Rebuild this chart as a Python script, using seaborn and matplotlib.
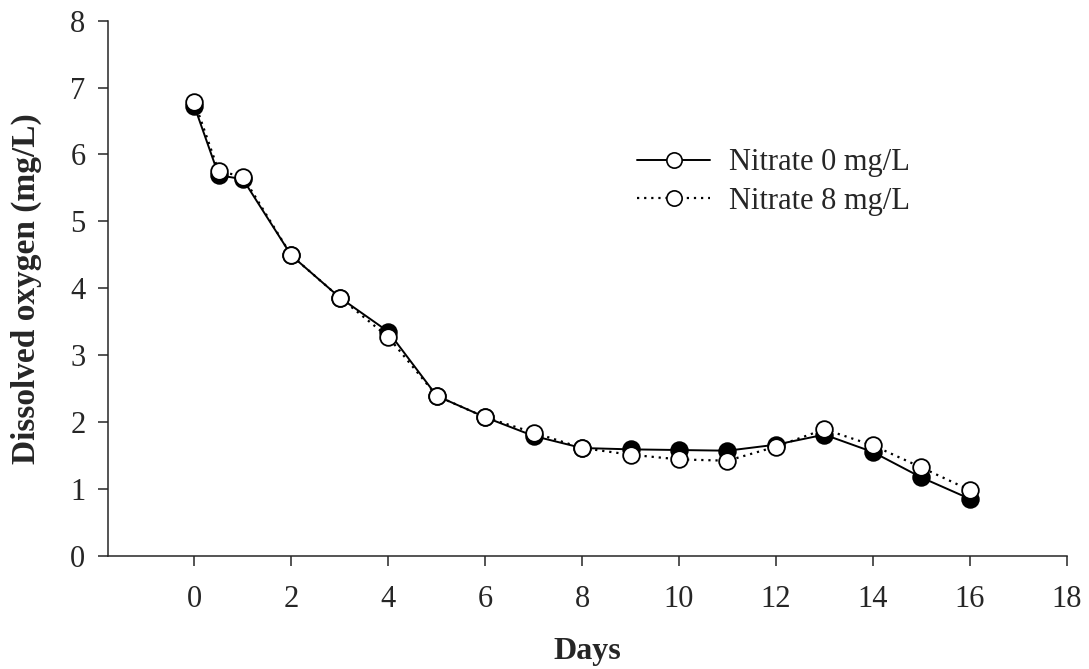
import matplotlib
matplotlib.use("Agg")
import matplotlib.pyplot as plt
from matplotlib.lines import Line2D
import pandas as pd
import seaborn as sns

days = [0, 0.5, 1, 2, 3, 4, 5, 6, 7, 8, 9, 10, 11, 12, 13, 14, 15, 16]
nitrate_0 = [6.72, 5.69, 5.63, 4.49, 3.86, 3.35, 2.39, 2.07, 1.79, 1.61, 1.59, 1.58,
             1.57, 1.66, 1.81, 1.55, 1.17, 0.85]
nitrate_8 = [6.79, 5.75, 5.67, 4.49, 3.86, 3.27, 2.39, 2.07, 1.84, 1.61, 1.51, 1.44,
             1.42, 1.63, 1.89, 1.65, 1.32, 0.98]
labels = ["Nitrate 0 mg/L", "Nitrate 8 mg/L"]

sns.set_style("ticks")
plt.rcParams['font.family'] = ['Liberation Serif', 'DejaVu Serif']
plt.rcParams['axes.linewidth'] = 1.1

df0 = pd.DataFrame({"Days": days, "DO": nitrate_0})
df8 = pd.DataFrame({"Days": days, "DO": nitrate_8})

fig = plt.figure(figsize=(10.89, 6.69), dpi=100)
ax = fig.add_axes([0.0989, 0.1694, 0.8806, 0.7996])

# 0 mg/L: solid line, black filled circles (drawn underneath)
sns.lineplot(data=df0, x="Days", y="DO", ax=ax, color="black", linewidth=1.4,
             linestyle="-", marker="o", markersize=12, markerfacecolor="black",
             markeredgecolor="black", markeredgewidth=1.3, zorder=2)
# 8 mg/L: dotted line, open circles on top
sns.lineplot(data=df8, x="Days", y="DO", ax=ax, color="black", linewidth=1.6,
             linestyle=(0, (1, 2.2)), marker="o", markersize=12, markerfacecolor="white",
             markeredgecolor="black", markeredgewidth=1.3, zorder=3)

ax.set_xlim(-1.79, 18)
ax.set_ylim(0, 8)
ax.set_xticks(range(0, 19, 2))
ax.set_yticks(range(0, 9))
sns.despine(ax=ax)
ax.tick_params(axis="x", direction="out", length=7, width=1.1, labelsize=22, pad=14)
ax.tick_params(axis="y", direction="out", length=7, width=1.1, labelsize=22, pad=9)

ax.set_xlabel("Days", fontsize=23, fontweight="bold")
ax.set_ylabel("Dissolved oxygen (mg/L)", fontsize=24, fontweight="bold")
ax.xaxis.set_label_coords(0.5, -0.152)
ax.yaxis.set_label_coords(-0.068, 0.5)

handles = [
    Line2D([], [], color="black", linewidth=1.4, linestyle="-", marker="o", markersize=11,
           markerfacecolor="white", markeredgecolor="black", markeredgewidth=1.2),
    Line2D([], [], color="black", linewidth=1.6, linestyle=(0, (1, 2.2)), marker="o",
           markersize=11, markerfacecolor="white", markeredgecolor="black", markeredgewidth=1.2),
]
ax.legend(handles, labels, loc="upper left", bbox_to_anchor=(0.536, 0.79), frameon=False,
          fontsize=22, handlelength=2.4, handletextpad=0.6, labelspacing=0.3, borderpad=0)

plt.savefig("out.png", dpi=100)
